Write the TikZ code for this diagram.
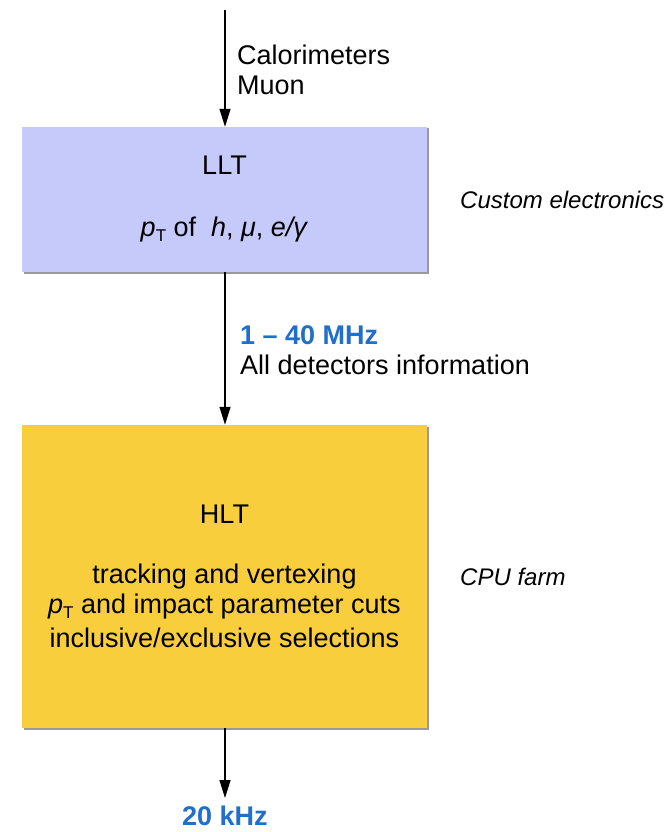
\documentclass[tikz,border=0pt]{standalone}
\usepackage{fontspec}
\setmainfont{Liberation Sans}
\usetikzlibrary{arrows.meta,shadows}

\definecolor{lltfill}{HTML}{C6CAFA}
\definecolor{hltfill}{HTML}{F9CE3C}
\definecolor{rateblue}{HTML}{1F6FCB}
\definecolor{edgegray}{HTML}{9A9A9A}

\tikzset{
  stage/.style={rectangle, draw=none, minimum width=405pt, inner sep=0pt,
    align=center, font=\fontsize{27}{30}\selectfont,
    drop shadow={shadow xshift=1.5pt, shadow yshift=-1.5pt, fill=edgegray, opacity=1}},
  flow/.style={-{Triangle[length=18pt,width=11pt]}, line width=1.2pt},
  note/.style={inner sep=0pt, align=left, anchor=west, font=\fontsize{27}{30}\selectfont},
  rate/.style={inner sep=0pt, font=\fontsize{27}{30}\selectfont\bfseries, text=rateblue},
  role/.style={inner sep=0pt, anchor=west, font=\fontsize{24}{28}\selectfont\itshape},
}
% transverse momentum symbol: italic p with upright subscript T
\newcommand{\pTsym}{\textit{p}\raisebox{-5pt}{\fontsize{17}{17}\selectfont T}}

\begin{document}
\begin{tikzpicture}[x=1pt,y=-1pt]
  \fill[white] (0,0) rectangle (667,832);
  \useasboundingbox (0,0) rectangle (667,832);

  % trigger stages
  \node[stage, fill=lltfill, minimum height=145pt] (llt) at (224.5,199.5)
    {LLT\\[32pt]\pTsym\ of\ \ \textit{h}, \textit{μ}, \textit{e/γ}};
  \node[stage, fill=hltfill, minimum height=303pt] (hlt) at (224.5,576.5)
    {HLT\\[30pt]tracking and vertexing\\\pTsym\ and impact parameter cuts\\[4pt]inclusive/exclusive selections};

  % data flow
  \coordinate (input) at (225,10);
  \coordinate (output) at (225,798);
  \draw[flow] (input) -- (llt.north -| input);
  \draw[flow] (llt.south -| input) -- (hlt.north -| input);
  \draw[flow] (hlt.south -| input) -- (output);

  % flow labels
  \node[note] (inputs) at (237,70) {Calorimeters\\Muon};
  \node[note] (mid) at (240,350) {\textcolor{rateblue}{\bfseries 1 – 40 MHz}\\All detectors information};
  \node[rate, anchor=north] (outrate) at (225,806) {20 kHz};

  % implementation labels
  \node[role] (lltrole) at (460,200) {Custom electronics};
  \node[role] (hltrole) at (460,577) {CPU farm};
\end{tikzpicture}
\end{document}
